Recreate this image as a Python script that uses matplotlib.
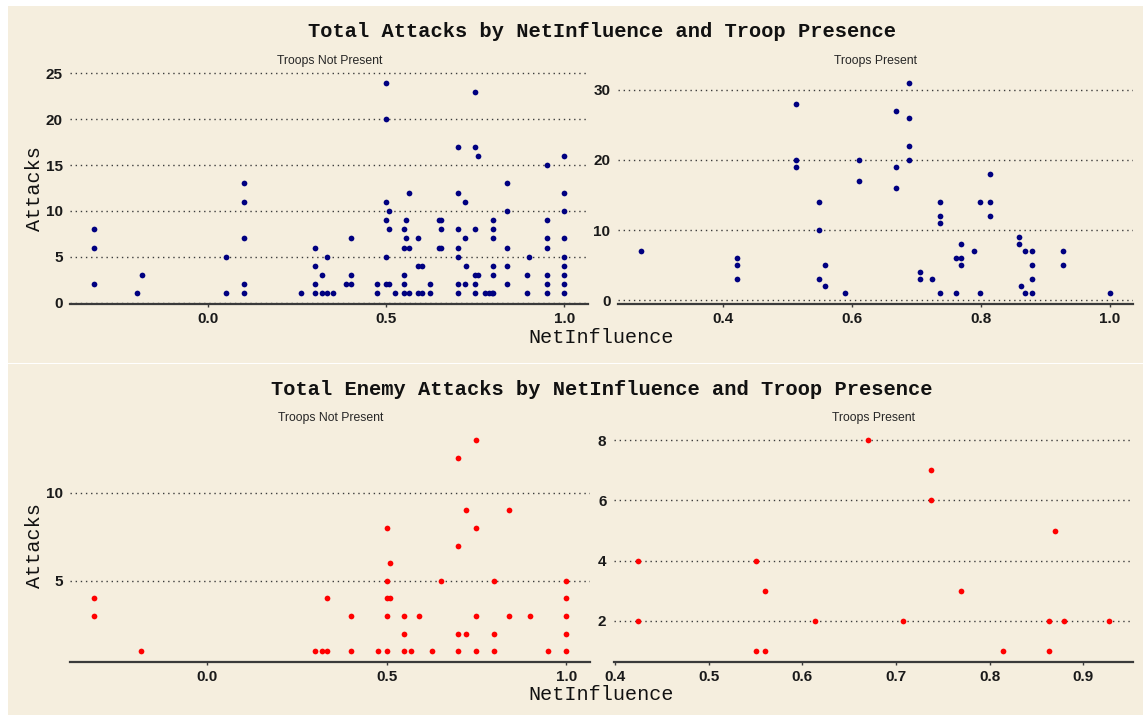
import matplotlib
matplotlib.use('Agg')
import matplotlib.pyplot as plt
from matplotlib.patches import Rectangle

# total attacks, troops not present
tna_x = [-0.32, -0.32, -0.32, -0.20, -0.185, 0.05, 0.05,
         0.10, 0.10, 0.10, 0.10, 0.10, 0.262, 0.30, 0.30, 0.30, 0.30,
         0.32, 0.32, 0.333, 0.333, 0.35, 0.388, 0.40, 0.40, 0.40,
         0.475, 0.475, 0.50, 0.50, 0.50, 0.50, 0.50, 0.50,
         0.509, 0.509, 0.509, 0.525, 0.549, 0.549, 0.549, 0.549, 0.549,
         0.555, 0.555, 0.565, 0.565, 0.565, 0.588, 0.588, 0.588,
         0.60, 0.60, 0.624, 0.624, 0.647, 0.647, 0.653, 0.653, 0.653,
         0.70, 0.70, 0.70, 0.70, 0.70, 0.70, 0.70, 0.72, 0.72, 0.72, 0.725,
         0.75, 0.75, 0.75, 0.75, 0.75, 0.75, 0.757, 0.757,
         0.778, 0.787, 0.797, 0.80, 0.80, 0.80, 0.80, 0.80, 0.80,
         0.84, 0.84, 0.84, 0.84, 0.84, 0.895, 0.895, 0.90,
         0.95, 0.95, 0.95, 0.95, 0.95, 0.95, 0.95,
         1.0, 1.0, 1.0, 1.0, 1.0, 1.0, 1.0, 1.0, 1.0]
tna_y = [8, 6, 2, 1, 3, 5, 1,
         13, 11, 7, 2, 1, 1, 6, 4, 2, 1,
         3, 1, 5, 1, 1, 2, 7, 3, 2,
         2, 1, 24, 20, 11, 9, 5, 2,
         10, 8, 2, 1, 8, 6, 3, 2, 1,
         9, 7, 12, 6, 1, 7, 4, 1,
         4, 1, 2, 1, 9, 6, 9, 8, 6,
         17, 12, 8, 6, 5, 2, 1, 11, 7, 2, 4,
         23, 17, 8, 3, 2, 1, 16, 3,
         1, 1, 1, 9, 8, 7, 4, 3, 1,
         13, 10, 6, 4, 2, 3, 1, 5,
         15, 9, 7, 6, 3, 2, 1,
         16, 12, 10, 7, 5, 4, 3, 2, 1]

# total attacks, troops present
tp_x = [0.274, 0.423, 0.423, 0.423, 0.513, 0.513, 0.513,
        0.549, 0.549, 0.549, 0.559, 0.559, 0.589, 0.612, 0.612,
        0.669, 0.669, 0.669, 0.689, 0.689, 0.689, 0.689,
        0.706, 0.706, 0.724, 0.737, 0.737, 0.737, 0.737,
        0.762, 0.762, 0.769, 0.769, 0.769, 0.789, 0.799, 0.799,
        0.814, 0.814, 0.814, 0.859, 0.859, 0.863, 0.869, 0.869,
        0.88, 0.88, 0.88, 0.88, 0.928, 0.928, 1.0]
tp_y = [7, 6, 5, 3, 28, 20, 19,
        14, 10, 3, 5, 2, 1, 20, 17,
        27, 19, 16, 31, 26, 22, 20,
        4, 3, 3, 14, 12, 11, 1,
        6, 1, 8, 6, 5, 7, 14, 1,
        18, 14, 12, 9, 8, 2, 7, 1,
        7, 5, 3, 1, 7, 5, 1]

# enemy attacks, troops not present
ena_x = [-0.314, -0.314, -0.183, 0.30, 0.32, 0.334, 0.334, 0.40, 0.40,
         0.476, 0.50, 0.50, 0.50, 0.50, 0.50, 0.51, 0.51,
         0.549, 0.549, 0.549, 0.567, 0.589, 0.626, 0.65,
         0.699, 0.699, 0.699, 0.699, 0.72, 0.72,
         0.749, 0.749, 0.749, 0.749, 0.80, 0.80, 0.80,
         0.84, 0.84, 0.90, 0.95, 1.0, 1.0, 1.0, 1.0, 1.0]
ena_y = [4, 3, 1, 1, 1, 4, 1, 3, 1,
         1, 8, 5, 4, 3, 1, 6, 4,
         3, 2, 1, 1, 3, 1, 5,
         12, 7, 2, 1, 9, 2,
         13, 8, 3, 1, 5, 2, 1,
         9, 3, 3, 1, 5, 4, 3, 2, 1]

# enemy attacks, troops present
ep_x = [0.424, 0.424, 0.55, 0.55, 0.56, 0.56, 0.613, 0.67, 0.707,
        0.737, 0.737, 0.77, 0.814, 0.863, 0.863, 0.87, 0.88, 0.928]
ep_y = [4, 2, 4, 1, 3, 1, 2, 8, 2,
        7, 6, 3, 1, 2, 1, 5, 2, 2]

W, H = 1143, 715
BG = '#F5EEDE'
fig = plt.figure(figsize=(W / 100, H / 100), dpi=100)
fig.patch.set_facecolor('white')
fig.add_artist(Rectangle((8 / W, 1 - 362.5 / H), 1, 356.5 / H,
                         transform=fig.transFigure, facecolor=BG,
                         edgecolor='none', zorder=0))
fig.add_artist(Rectangle((8 / W, 0), 1, (H - 363.8) / H,
                         transform=fig.transFigure, facecolor=BG,
                         edgecolor='none', zorder=0))


def box(l, t, r, b):
    return [l / W, 1 - b / H, (r - l) / W, (b - t) / H]


def expand(v, frac=0.05):
    lo, hi = min(v), max(v)
    pad = (hi - lo) * frac
    return lo - pad, hi + pad


def panel(rect, x, y, color, strip, xticks, yticks):
    ax = fig.add_axes(rect)
    ax.set_facecolor('none')
    ax.scatter(x, y, s=17, color=color, linewidths=0, zorder=3)
    ax.set_xlim(*expand(x))
    ax.set_ylim(*expand(y))
    ax.set_xticks(xticks)
    ax.set_yticks(yticks)
    ax.set_axisbelow(True)
    ax.grid(axis='y', color='#3c3c3c', linestyle=(0, (1, 2.7)), linewidth=1.0)
    for s in ['top', 'right', 'left']:
        ax.spines[s].set_visible(False)
    ax.spines['bottom'].set_color('#3a3a3a')
    ax.spines['bottom'].set_linewidth(1.6)
    ax.tick_params(axis='y', length=0, pad=5.4, labelsize=11)
    ax.tick_params(axis='x', length=2.5, width=1, color='#3a3a3a', pad=3.2,
                   labelsize=11)
    for lab in ax.get_xticklabels() + ax.get_yticklabels():
        lab.set_fontweight('bold')
        lab.set_family('Liberation Sans')
        lab.set_color('#1a1a1a')
    ax.set_title(strip, fontsize=8.8, family='Liberation Sans',
                 color='#262626', pad=5.8)
    return ax


panel(box(70.4, 72, 588, 304), tna_x, tna_y, '#000080',
      'Troops Not Present', [0.0, 0.5, 1.0], [0, 5, 10, 15, 20, 25])
panel(box(618, 72, 1133, 304), tp_x, tp_y, '#000080',
      'Troops Present', [0.4, 0.6, 0.8, 1.0], [0, 10, 20, 30])
panel(box(70.4, 429.5, 590, 661.7), ena_x, ena_y, '#FF0000',
      'Troops Not Present', [0.0, 0.5, 1.0], [5, 10])
panel(box(614, 429.5, 1133, 661.7), ep_x, ep_y, '#FF0000',
      'Troops Present', [0.4, 0.5, 0.6, 0.7, 0.8, 0.9], [2, 4, 6, 8])

mono = dict(family='Liberation Mono', color='#111111')
fig.text(601.5 / W, 1 - 36.7 / H,
         'Total Attacks by NetInfluence and Troop Presence',
         ha='center', va='baseline', fontsize=14.7, weight='bold', **mono)
fig.text(601.5 / W, 1 - 395 / H,
         'Total Enemy Attacks by NetInfluence and Troop Presence',
         ha='center', va='baseline', fontsize=14.7, weight='bold', **mono)
fig.text(601 / W, 1 - 343 / H, 'NetInfluence', ha='center', va='baseline',
         fontsize=14.5, **mono)
fig.text(601 / W, 1 - 700 / H, 'NetInfluence', ha='center', va='baseline',
         fontsize=14.5, **mono)
fig.text(34 / W, 1 - 188.5 / H, 'Attacks', rotation=90, ha='center',
         va='center', fontsize=14.5, **mono)
fig.text(34 / W, 1 - 546 / H, 'Attacks', rotation=90, ha='center',
         va='center', fontsize=14.5, **mono)

fig.savefig('out.png', dpi=100, facecolor=fig.get_facecolor())
